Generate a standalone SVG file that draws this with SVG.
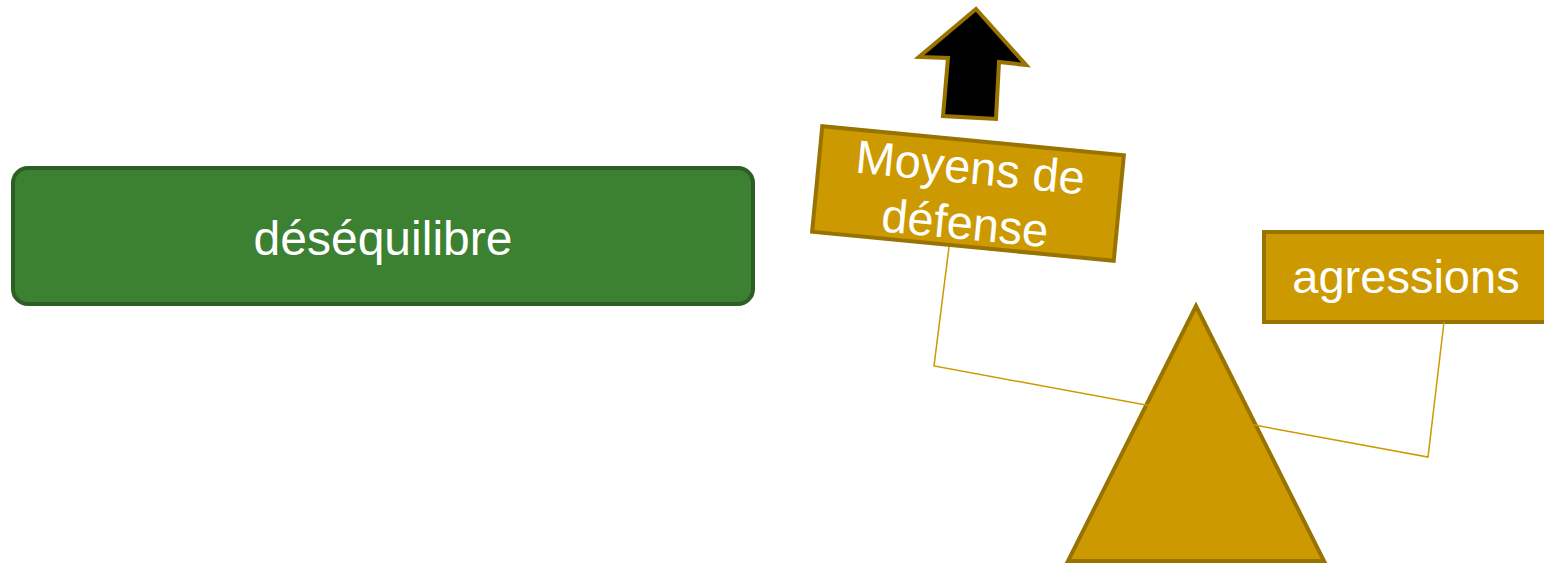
<svg xmlns="http://www.w3.org/2000/svg" width="1544" height="564" viewBox="0 0 1544 564">
  <style>
    .lbl { font-family: "Liberation Sans", Arial, sans-serif; fill: #ffffff; text-anchor: middle; }
    .gold { fill: #cc9900; stroke: #997300; stroke-width: 4; }
    .wire { fill: none; stroke: #cc9900; stroke-width: 1.5; stroke-linejoin: miter; }
  </style>
  <rect width="1544" height="564" fill="#ffffff"/>

  <!-- state label -->
  <g id="desequilibre">
    <rect x="13" y="168" width="740" height="136" rx="15" ry="15" fill="#3c8032" stroke="#2d5e23" stroke-width="4"/>
    <text class="lbl" x="383" y="255" font-size="48">déséquilibre</text>
  </g>

  <!-- left pan: tilted block -->
  <g id="moyens-defense" transform="translate(968,193.5) rotate(5.5)">
    <rect class="gold" x="-151.5" y="-53" width="303" height="106"/>
    <text class="lbl" x="0" y="-10" font-size="47">Moyens de</text>
    <text class="lbl" x="0" y="46" font-size="47">défense</text>
  </g>

  <!-- rising arrow above the left pan -->
  <g id="fleche">
    <polygon points="976,9 1026,65 999,62 996,119 943,116 948,58 919,57" fill="#000000" stroke="#997300" stroke-width="4" stroke-linejoin="miter"/>
  </g>

  <!-- right pan -->
  <g id="agressions">
    <rect class="gold" x="1264" y="232" width="284" height="90"/>
    <text class="lbl" x="1406" y="293" font-size="47">agressions</text>
  </g>

  <!-- fulcrum -->
  <g id="pivot">
    <polygon class="gold" points="1196,306 1324,561 1068,561" stroke-width="5" stroke-linejoin="miter"/>
  </g>

  <!-- balance beam and hangers -->
  <g id="connecteurs">
    <polyline class="wire" points="949,247 934,366 1428,457 1444,322"/>
  </g>
</svg>
